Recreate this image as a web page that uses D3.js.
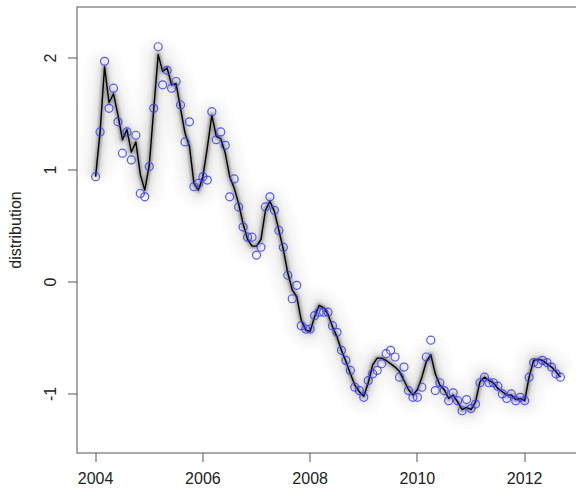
<!DOCTYPE html>
<html>
<head>
<meta charset="utf-8">
<script src="https://cdn.jsdelivr.net/npm/d3@7"></script>
<style>
  html, body { margin: 0; padding: 0; background: #fff; }
  svg { display: block; }
  text { font-family: "Liberation Sans", Arial, sans-serif; font-size: 16px; fill: #222; }
</style>
</head>
<body>
<script>
// monthly series, starting january 2004
const startYear = 2004;
// observed values (blue circles)
const observed = [
  0.94, 1.34, 1.97, 1.55, 1.73, 1.43, 1.15, 1.34, 1.09, 1.31, 0.79, 0.76,
  1.03, 1.55, 2.10, 1.76, 1.89, 1.73, 1.79, 1.58, 1.25, 1.43, 0.85, 0.88,
  0.94, 0.91, 1.52, 1.27, 1.34, 1.22, 0.76, 0.92, 0.67, 0.49, 0.40, 0.40,
  0.24, 0.31, 0.67, 0.76, 0.64, 0.46, 0.31, 0.06, -0.15, -0.03, -0.39, -0.42,
  -0.42, -0.30, -0.27, -0.27, -0.27, -0.39, -0.45, -0.61, -0.70, -0.79, -0.94, -0.97,
  -1.03, -0.88, -0.82, -0.79, -0.73, -0.64, -0.61, -0.67, -0.85, -0.76, -0.97, -1.03,
  -1.03, -0.94, -0.67, -0.52, -0.97, -0.90, -0.97, -1.06, -0.99, -1.06, -1.15, -1.05,
  -1.13, -1.09, -0.90, -0.85, -0.90, -0.90, -0.93, -1.00, -1.04, -1.00, -1.06, -1.03,
  -1.06, -0.85, -0.72, -0.73, -0.70, -0.72, -0.76, -0.82, -0.85
];
// smoothed estimate (black line with fuzzy band)
const fitted = [
  0.94, 1.34, 1.92, 1.60, 1.68, 1.49, 1.27, 1.36, 1.16, 1.25, 0.96, 0.82,
  1.04, 1.54, 2.03, 1.88, 1.91, 1.76, 1.77, 1.55, 1.33, 1.21, 0.88, 0.82,
  0.94, 1.20, 1.49, 1.30, 1.28, 1.15, 0.94, 0.84, 0.70, 0.52, 0.38, 0.32,
  0.32, 0.38, 0.64, 0.72, 0.63, 0.46, 0.29, 0.08, -0.07, -0.13, -0.34, -0.43,
  -0.44, -0.31, -0.21, -0.23, -0.29, -0.40, -0.49, -0.61, -0.71, -0.82, -0.92, -0.98,
  -1.02, -0.90, -0.74, -0.68, -0.68, -0.70, -0.73, -0.76, -0.80, -0.88, -0.96, -1.01,
  -0.96, -0.85, -0.71, -0.65, -0.82, -0.92, -0.96, -1.04, -1.01, -1.07, -1.14, -1.12,
  -1.14, -1.07, -0.89, -0.85, -0.88, -0.90, -0.95, -0.98, -1.01, -1.01, -1.05, -1.04,
  -1.06, -0.85, -0.70, -0.69, -0.70, -0.73, -0.76, -0.80, -0.85
];
const xTicks = [2004, 2006, 2008, 2010, 2012];
const yTicks = [-1, 0, 1, 2];
const yLabel = 'distribution';

const width  = 576,
      height = 489,
      plot   = {left: 77, right: 579, top: 7, bottom: 453};

const x = d3.scaleLinear().domain([2003.653, 2013.013]).range([plot.left, plot.right]);
const y = d3.scaleLinear().domain([-1.527, 2.455]).range([plot.bottom, plot.top]);
const t = i => startYear + i / 12;

const svg = d3.select('body').append('svg')
  .attr('width', width)
  .attr('height', height);

// blur filters for the fuzzy band
const defs = svg.append('defs');
[['blur1', 1.2], ['blur2', 2.5], ['blur3', 5]].forEach(([id, sd]) => {
  defs.append('filter').attr('id', id)
    .attr('x', '-10%').attr('y', '-20%').attr('width', '120%').attr('height', '140%')
    .append('feGaussianBlur').attr('stdDeviation', sd);
});

const line = d3.line().x((d, i) => x(t(i))).y(d => y(d));

// band: wide faint layers under the crisp line
const band = [
  {w: 30, o: 0.045, f: 'blur3'},
  {w: 12, o: 0.09,  f: 'blur2'},
  {w: 5,  o: 0.28,  f: 'blur1'}
];
band.forEach(b => {
  svg.append('path').datum(fitted)
    .attr('d', line)
    .attr('fill', 'none')
    .attr('stroke', '#000')
    .attr('stroke-opacity', b.o)
    .attr('stroke-width', b.w)
    .attr('stroke-linejoin', 'round')
    .attr('filter', `url(#${b.f})`);
});
svg.append('path').datum(fitted)
  .attr('d', line)
  .attr('fill', 'none')
  .attr('stroke', '#000')
  .attr('stroke-width', 1.4)
  .attr('stroke-linejoin', 'round');

// observed points
svg.append('g').selectAll('circle')
  .data(observed)
  .join('circle')
  .attr('cx', (d, i) => x(t(i)))
  .attr('cy', d => y(d))
  .attr('r', 4)
  .attr('fill', 'none')
  .attr('stroke', '#3a3aff')
  .attr('stroke-opacity', 0.85)
  .attr('stroke-width', 1.2);

// plot box
svg.append('rect')
  .attr('x', plot.left).attr('y', plot.top)
  .attr('width', plot.right - plot.left).attr('height', plot.bottom - plot.top)
  .attr('fill', 'none')
  .attr('stroke', '#555');

// bottom axis
const xAxis = svg.append('g');
xAxis.selectAll('line').data(xTicks).join('line')
  .attr('x1', d => Math.round(x(d))).attr('x2', d => Math.round(x(d)))
  .attr('y1', plot.bottom).attr('y2', plot.bottom + 9)
  .attr('stroke', '#555');
xAxis.selectAll('text').data(xTicks).join('text')
  .attr('x', d => x(d)).attr('y', 484)
  .attr('text-anchor', 'middle')
  .text(d => d);

// left axis, labels rotated like base R
const yAxis = svg.append('g');
yAxis.selectAll('line').data(yTicks).join('line')
  .attr('x1', plot.left).attr('x2', plot.left - 9)
  .attr('y1', d => Math.round(y(d))).attr('y2', d => Math.round(y(d)))
  .attr('stroke', '#555');
yAxis.selectAll('text').data(yTicks).join('text')
  .attr('transform', d => `translate(56,${y(d)}) rotate(-90)`)
  .attr('text-anchor', 'middle')
  .text(d => d);

svg.append('text')
  .attr('transform', `translate(21,${(plot.top + plot.bottom) / 2}) rotate(-90)`)
  .attr('text-anchor', 'middle')
  .text(yLabel);
</script>
</body>
</html>
